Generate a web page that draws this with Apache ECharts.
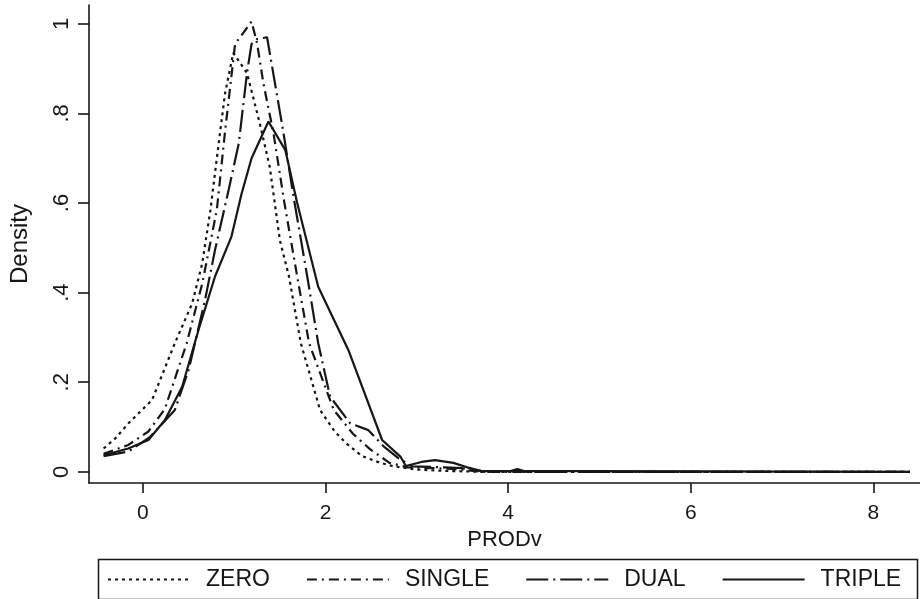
<!DOCTYPE html>
<html>
<head>
<meta charset="utf-8">
<script src="https://cdn.jsdelivr.net/npm/echarts@6/dist/echarts.min.js"></script>
<style>
  html, body { margin: 0; padding: 0; background: #fff; }
  #chart { width: 920px; height: 599px; }
</style>
</head>
<body>
<div id="chart"></div>
<script>
// Kernel density estimates of PRODv by group (evaluation points and densities)
const seriesNames = ['ZERO', 'SINGLE', 'DUAL', 'TRIPLE'];

const zeroX = [-0.43, -0.3, -0.16, 0.1, 0.35, 0.54, 0.65, 0.74, 0.83, 0.9, 0.99, 1.14, 1.28, 1.39, 1.5, 1.6, 1.73, 1.94, 2.1, 2.23, 2.4, 2.6, 2.75, 3.0, 3.3, 3.7, 8.4];
const zeroY = [0.052, 0.075, 0.108, 0.16, 0.287, 0.376, 0.465, 0.585, 0.733, 0.845, 0.935, 0.89, 0.778, 0.68, 0.517, 0.436, 0.287, 0.138, 0.09, 0.063, 0.035, 0.02, 0.012, 0.005, 0.002, 0, 0];

const singleX = [-0.43, -0.16, 0.06, 0.24, 0.48, 0.65, 0.81, 0.9, 1.01, 1.19, 1.25, 1.32, 1.43, 1.55, 1.69, 1.82, 2.09, 2.3, 2.49, 2.7, 2.9, 3.2, 3.5, 3.7, 8.4];
const singleY = [0.04, 0.06, 0.09, 0.14, 0.287, 0.42, 0.585, 0.76, 0.955, 1.005, 0.957, 0.867, 0.756, 0.6, 0.436, 0.287, 0.138, 0.085, 0.05, 0.02, 0.01, 0.008, 0.005, 0, 0];

const dualX = [-0.43, -0.16, 0.08, 0.35, 0.5, 0.57, 0.68, 0.79, 0.94, 1.05, 1.14, 1.19, 1.25, 1.36, 1.54, 1.65, 1.8, 1.92, 2.05, 2.27, 2.47, 2.64, 2.8, 2.95, 3.3, 3.5, 3.7, 4.0, 4.1, 4.2, 8.4];
const dualY = [0.035, 0.045, 0.078, 0.138, 0.227, 0.287, 0.383, 0.495, 0.63, 0.733, 0.89, 0.955, 0.966, 0.97, 0.756, 0.614, 0.436, 0.287, 0.168, 0.108, 0.093, 0.056, 0.03, 0.012, 0.01, 0.008, 0.002, 0, 0.006, 0, 0];

const tripleX = [-0.43, -0.16, 0.06, 0.24, 0.43, 0.61, 0.79, 0.97, 1.08, 1.19, 1.375, 1.56, 1.69, 1.92, 2.25, 2.62, 2.82, 2.88, 3.05, 3.2, 3.4, 3.55, 3.7, 8.4];
const tripleY = [0.037, 0.052, 0.071, 0.115, 0.19, 0.317, 0.436, 0.525, 0.62, 0.7, 0.782, 0.718, 0.6, 0.413, 0.272, 0.071, 0.034, 0.013, 0.022, 0.026, 0.02, 0.01, 0.002, 0];

const xTicks = [0, 2, 4, 6, 8];
const yTicks = [0, 0.2, 0.4, 0.6, 0.8, 1];

const ink = '#161616';
const font = 'Liberation Sans, Arial, Helvetica, sans-serif';

function pairs(xs, ys) {
  return xs.map((x, i) => [x, ys[i]]);
}

const dashes = {
  ZERO: [3, 4],
  SINGLE: [10, 5, 2, 5],
  DUAL: [22, 5, 2, 5],
  TRIPLE: 'solid'
};
const values = {
  ZERO: pairs(zeroX, zeroY),
  SINGLE: pairs(singleX, singleY),
  DUAL: pairs(dualX, dualY),
  TRIPLE: pairs(tripleX, tripleY)
};

const chart = echarts.init(document.getElementById('chart'), null, { renderer: 'canvas' });

chart.setOption({
  animation: false,
  backgroundColor: '#fff',
  grid: { left: 89, top: 5, right: 0, bottom: 116, containLabel: false, outerBoundsMode: 'none' },
  xAxis: {
    type: 'value',
    min: -0.59,
    max: 8.51,
    name: 'PRODv',
    nameLocation: 'middle',
    nameGap: 46,
    nameTextStyle: { color: ink, fontSize: 22, fontFamily: font },
    axisLine: { show: true, onZero: false, lineStyle: { color: ink, width: 1.6 } },
    axisTick: { show: true, length: 10, customValues: xTicks, lineStyle: { color: ink, width: 1.6 } },
    axisLabel: { customValues: xTicks, color: ink, fontSize: 21, fontFamily: font, margin: 20 },
    splitLine: { show: false }
  },
  yAxis: {
    type: 'value',
    min: -0.025,
    max: 1.042,
    name: 'Density',
    nameLocation: 'middle',
    nameGap: 57,
    nameTextStyle: { color: ink, fontSize: 24, fontFamily: font },
    axisLine: { show: true, onZero: false, lineStyle: { color: ink, width: 1.6 } },
    axisTick: { show: true, length: 11, customValues: yTicks, lineStyle: { color: ink, width: 1.6 } },
    axisLabel: {
      customValues: yTicks,
      rotate: 90,
      color: ink,
      fontSize: 22,
      fontFamily: font,
      margin: 16,
      formatter: v => (v === 0 ? '0' : v === 1 ? '1' : String(Math.round(v * 10) / 10).replace(/^0/, ''))
    },
    splitLine: { show: false }
  },
  legend: {
    data: seriesNames,
    left: 102,
    top: 563,
    itemWidth: 82,
    itemHeight: 14,
    itemGap: 36,
    itemStyle: { opacity: 0 },
    textStyle: { color: ink, fontSize: 23, fontFamily: font, padding: [0, 0, 0, 11] }
  },
  graphic: [{
    type: 'rect',
    left: 96,
    top: 557,
    shape: { width: 819, height: 40 },
    style: { fill: 'none', stroke: ink, lineWidth: 1.5 },
    silent: true
  }],
  series: seriesNames.map(name => ({
    name: name,
    type: 'line',
    data: values[name],
    showSymbol: false,
    symbol: 'none',
    smooth: false,
    lineStyle: { color: ink, width: 2.2, type: dashes[name] },
    itemStyle: { color: ink }
  }))
});
</script>
</body>
</html>
